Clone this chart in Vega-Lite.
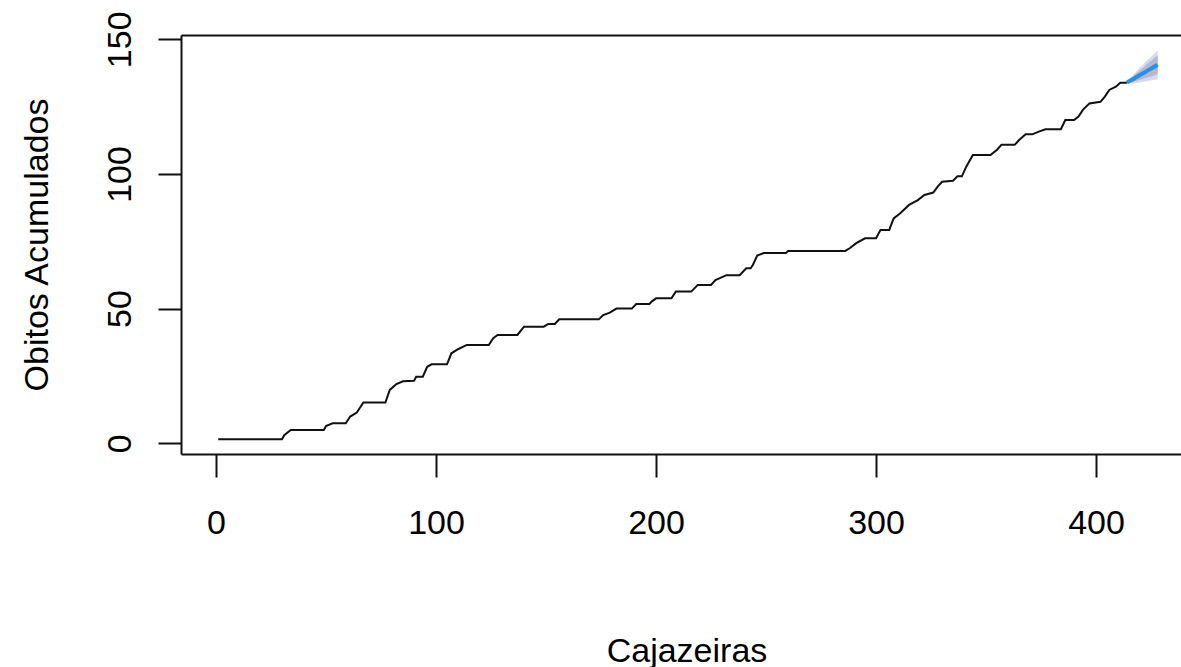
{
  "$schema": "https://vega.github.io/schema/vega-lite/v6.json",
  "autosize": {"type": "none"},
  "width": 1000,
  "height": 419,
  "padding": {"left": 181, "top": 35, "right": 0, "bottom": 213},
  "background": "white",
  "config": {
    "font": "Liberation Sans",
    "view": {"stroke": null},
    "axis": {
      "grid": false,
      "labelFontSize": 34,
      "labelColor": "#000",
      "labelFont": "Liberation Sans",
      "titleFont": "Liberation Sans",
      "titleFontSize": 34,
      "titleFontWeight": "normal",
      "titleColor": "#000",
      "domainColor": "#111",
      "tickColor": "#111",
      "domainWidth": 2,
      "tickWidth": 2,
      "tickSize": 23,
      "labelFlush": false,
      "labelOverlap": false
    }
  },
  "datasets": {
    "obs": [
      {"day": 1, "v": 1.5}, {"day": 30, "v": 1.5}, {"day": 31, "v": 3}, {"day": 34, "v": 4.9},
      {"day": 49, "v": 4.9}, {"day": 50, "v": 6.4}, {"day": 53, "v": 7.4}, {"day": 59, "v": 7.4},
      {"day": 61, "v": 9.9}, {"day": 64, "v": 11.4}, {"day": 67, "v": 15.1}, {"day": 77, "v": 15.1},
      {"day": 79, "v": 19.8}, {"day": 82, "v": 22}, {"day": 85, "v": 23}, {"day": 90, "v": 23.2},
      {"day": 91, "v": 24.7}, {"day": 94, "v": 24.7}, {"day": 96, "v": 28.4}, {"day": 98, "v": 29.3},
      {"day": 105, "v": 29.3}, {"day": 107, "v": 33.4}, {"day": 110, "v": 34.9}, {"day": 114, "v": 36.5},
      {"day": 124, "v": 36.5}, {"day": 126, "v": 39}, {"day": 128, "v": 40.2}, {"day": 137, "v": 40.2},
      {"day": 140, "v": 43.3}, {"day": 149, "v": 43.3}, {"day": 151, "v": 44.3}, {"day": 154, "v": 44.3},
      {"day": 156, "v": 46}, {"day": 174, "v": 46}, {"day": 176, "v": 47.6}, {"day": 179, "v": 48.5},
      {"day": 182, "v": 50}, {"day": 189, "v": 50}, {"day": 191, "v": 51.7}, {"day": 197, "v": 51.7},
      {"day": 198, "v": 52.6}, {"day": 200, "v": 53.8}, {"day": 207, "v": 53.8}, {"day": 209, "v": 56.3},
      {"day": 216, "v": 56.3}, {"day": 219, "v": 58.8}, {"day": 225, "v": 58.8}, {"day": 227, "v": 60.6},
      {"day": 232, "v": 62.4}, {"day": 238, "v": 62.4}, {"day": 241, "v": 65}, {"day": 243, "v": 65},
      {"day": 244, "v": 66.2}, {"day": 246, "v": 69.7}, {"day": 249, "v": 70.6}, {"day": 259, "v": 70.6},
      {"day": 260, "v": 71.4}, {"day": 286, "v": 71.4}, {"day": 288, "v": 72.4}, {"day": 291, "v": 74.3},
      {"day": 295, "v": 76.1}, {"day": 300, "v": 76.1}, {"day": 302, "v": 79.2}, {"day": 306, "v": 79.2},
      {"day": 308, "v": 83.5}, {"day": 311, "v": 85.4}, {"day": 315, "v": 88.5}, {"day": 319, "v": 90.3},
      {"day": 322, "v": 92.2}, {"day": 326, "v": 93.1}, {"day": 328, "v": 95.3}, {"day": 330, "v": 97.1},
      {"day": 335, "v": 97.5}, {"day": 337, "v": 99.1}, {"day": 339, "v": 99.1}, {"day": 341, "v": 102.7},
      {"day": 344, "v": 107}, {"day": 352, "v": 107}, {"day": 355, "v": 109}, {"day": 357, "v": 110.8},
      {"day": 363, "v": 110.8}, {"day": 365, "v": 112.6}, {"day": 368, "v": 114.7}, {"day": 371, "v": 114.7},
      {"day": 374, "v": 115.7}, {"day": 377, "v": 116.6}, {"day": 384, "v": 116.6}, {"day": 386, "v": 120},
      {"day": 390, "v": 120}, {"day": 392, "v": 121.3}, {"day": 394, "v": 123.8}, {"day": 397, "v": 126.2},
      {"day": 402, "v": 126.8}, {"day": 404, "v": 128.7}, {"day": 406, "v": 131.2}, {"day": 409, "v": 132.4},
      {"day": 411, "v": 133.9}, {"day": 414, "v": 133.9}
    ],
    "fc": [
      {"day": 414, "f": 133.9, "lo80": 133.9, "hi80": 133.9, "lo95": 133.9, "hi95": 133.9},
      {"day": 415, "f": 134.4, "lo80": 134.0, "hi80": 134.8, "lo95": 133.8, "hi95": 135.0},
      {"day": 416, "f": 134.9, "lo80": 134.1, "hi80": 135.7, "lo95": 133.7, "hi95": 136.1},
      {"day": 417, "f": 135.3, "lo80": 134.2, "hi80": 136.4, "lo95": 133.7, "hi95": 136.9},
      {"day": 418, "f": 135.8, "lo80": 134.5, "hi80": 137.1, "lo95": 133.8, "hi95": 137.8},
      {"day": 419, "f": 136.3, "lo80": 134.7, "hi80": 137.9, "lo95": 133.9, "hi95": 138.7},
      {"day": 420, "f": 136.8, "lo80": 135.0, "hi80": 138.6, "lo95": 134.0, "hi95": 139.6},
      {"day": 421, "f": 137.2, "lo80": 135.2, "hi80": 139.2, "lo95": 134.1, "hi95": 140.3},
      {"day": 422, "f": 137.7, "lo80": 135.5, "hi80": 139.9, "lo95": 134.3, "hi95": 141.1},
      {"day": 423, "f": 138.2, "lo80": 135.7, "hi80": 140.7, "lo95": 134.4, "hi95": 142.0},
      {"day": 424, "f": 138.7, "lo80": 136.0, "hi80": 141.4, "lo95": 134.6, "hi95": 142.8},
      {"day": 425, "f": 139.1, "lo80": 136.2, "hi80": 142.0, "lo95": 134.7, "hi95": 143.5},
      {"day": 426, "f": 139.6, "lo80": 136.5, "hi80": 142.7, "lo95": 134.9, "hi95": 144.3},
      {"day": 427, "f": 140.1, "lo80": 136.8, "hi80": 143.4, "lo95": 135.1, "hi95": 145.1},
      {"day": 428, "f": 140.5, "lo80": 137.0, "hi80": 144.0, "lo95": 135.2, "hi95": 145.8}
    ]
  },
  "resolve": {"axis": {"x": "independent"}},
  "layer": [
    {
      "data": {"name": "fc"},
      "mark": {"type": "area", "color": "#D9DAE7", "opacity": 1, "clip": true},
      "encoding": {
        "x": {
          "field": "day", "type": "quantitative",
          "scale": {"domain": [-15.9, 438.6], "nice": false, "zero": false},
          "axis": {
            "orient": "bottom",
            "values": [0, 100, 200, 300, 400],
            "labelBaseline": "alphabetic",
            "labelPadding": 56,
            "title": "Cajazeiras",
            "titleX": 505.5,
            "titleY": 207,
            "titleAlign": "center",
            "titleBaseline": "alphabetic"
          }
        },
        "y": {
          "field": "lo95", "type": "quantitative",
          "scale": {"domain": [-4.0, 151.6], "nice": false, "zero": false},
          "title": "Obitos Acumulados",
          "axis": {
            "values": [0, 50, 100, 150],
            "labelAngle": 270,
            "labelAlign": "center",
            "labelBaseline": "alphabetic",
            "labelPadding": 28,
            "titleAngle": 270,
            "titleX": -134,
            "titleY": 209.5,
            "titleAlign": "center",
            "titleBaseline": "alphabetic"
          }
        },
        "y2": {"field": "hi95"}
      }
    },
    {
      "data": {"name": "fc"},
      "mark": {"type": "area", "color": "#B4B7D5", "opacity": 1, "clip": true},
      "encoding": {
        "x": {"field": "day", "type": "quantitative", "axis": null},
        "y": {"field": "lo80", "type": "quantitative", "title": "Obitos Acumulados"},
        "y2": {"field": "hi80"}
      }
    },
    {
      "data": {"name": "obs"},
      "mark": {"type": "line", "color": "#111", "strokeWidth": 2, "clip": true},
      "encoding": {
        "x": {"field": "day", "type": "quantitative", "axis": null},
        "y": {"field": "v", "type": "quantitative", "title": "Obitos Acumulados"}
      }
    },
    {
      "data": {"name": "fc"},
      "mark": {"type": "line", "color": "#2A8FE6", "strokeWidth": 4, "clip": true},
      "encoding": {
        "x": {
          "field": "day", "type": "quantitative",
          "axis": {"orient": "top", "labels": false, "ticks": false, "domain": true, "title": null}
        },
        "y": {"field": "f", "type": "quantitative", "title": "Obitos Acumulados"}
      }
    }
  ]
}
